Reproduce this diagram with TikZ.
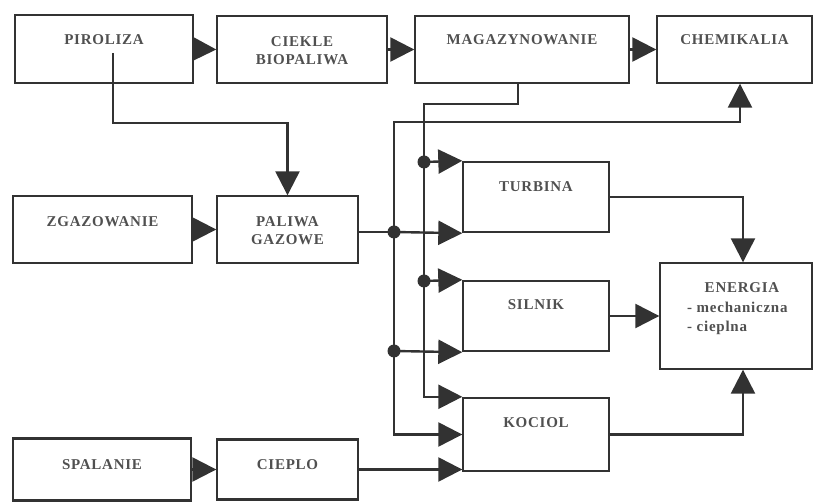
\documentclass[tikz,border=0pt]{standalone}
\usepackage{fontspec}
\setmainfont{Liberation Serif}[LetterSpace=5]
\usetikzlibrary{arrows.meta}
\definecolor{ln}{RGB}{50,50,50}
\definecolor{tx}{RGB}{80,80,80}
\tikzset{
  box/.style={draw=ln, line width=2.4pt, rectangle, inner sep=0pt},
  lbl/.style={text=tx, font=\bfseries\fontsize{15}{18.5}\selectfont, anchor=base, align=center, inner sep=0pt},
  conn/.style={draw=ln, line width=2.4pt},
  arr/.style={conn, -{Triangle[length=24pt,width=24pt]}, shorten >=-0.5pt},
  jdot/.style={circle, fill=ln, inner sep=0pt, minimum size=13pt},
}
\begin{document}
\begin{tikzpicture}[x=1pt,y=-1pt]
\useasboundingbox (0,0) rectangle (815,502);
% boxes
\node[box, minimum width=178pt, minimum height=68pt] (pir) at (104,49) {};
\node[box, minimum width=170pt, minimum height=67pt] (ciek) at (302,49.5) {};
\node[box, minimum width=214pt, minimum height=67pt] (mag) at (522,49.5) {};
\node[box, minimum width=155pt, minimum height=67pt] (chem) at (734.5,49.5) {};
\node[box, minimum width=179pt, minimum height=67pt] (zga) at (102.5,229.5) {};
\node[box, minimum width=141pt, minimum height=67pt] (pal) at (287.5,229.5) {};
\node[box, minimum width=146pt, minimum height=70pt] (tur) at (536,197) {};
\node[box, minimum width=146pt, minimum height=70pt] (sil) at (536,316) {};
\node[box, minimum width=146pt, minimum height=73pt] (koc) at (536,434.5) {};
\node[box, minimum width=152pt, minimum height=106pt] (ene) at (736,316) {};
\node[box, minimum width=178pt, minimum height=62pt] (spa) at (102,469.5) {};
\node[box, minimum width=141pt, minimum height=60pt] (cie) at (287.5,469.5) {};
% labels
\node[lbl] (tpir) at (104,45) {PIROLIZA};
\node[lbl] (tciek) at (302,65) {CIEKLE\\BIOPALIWA};
\node[lbl] (tmag) at (522,45) {MAGAZYNOWANIE};
\node[lbl] (tchem) at (734.5,45) {CHEMIKALIA};
\node[lbl] (tzga) at (102.5,227) {ZGAZOWANIE};
\node[lbl] (tpal) at (287.5,245) {PALIWA\\GAZOWE};
\node[lbl] (ttur) at (536,192) {TURBINA};
\node[lbl] (tsil) at (536,310) {SILNIK};
\node[lbl] (tkoc) at (536,428) {KOCIOL};
\node[lbl] (tene) at (742,293) {ENERGIA};
\node[lbl, anchor=base west] (tmech) at (687,313) {- mechaniczna};
\node[lbl, anchor=base west] (tciep) at (687,332) {- cieplna};
\node[lbl] (tspa) at (102,470) {SPALANIE};
\node[lbl] (tcie) at (287.5,470) {CIEPLO};
% junctions and bends
\coordinate (pirout) at (113,53);
\coordinate (mago) at (518,83);
\node[jdot] (jA) at (394,232) {};
\node[jdot] (jB) at (394,351) {};
\node[jdot] (jC) at (424,162) {};
\node[jdot] (jD) at (424,281) {};
% connectors in top row
\draw[arr] (pir.east) -- (ciek.west);
\draw[arr] (ciek.east) -- (mag.west);
\draw[arr] (mag.east) -- (chem.west);
\draw[arr] (pirout) -- (113,123) -| (pal.north);
\draw[arr] (zga.east) -- (pal.west);
\draw[arr] (spa.east) -- (cie.west);
% gas fuel distribution
\draw[conn] (pal.east |- jA) -- (jA.center);
\draw[arr] (jA.center) -- (tur.south west);
\draw[arr] (jA.center) -- (394,122) -| ([xshift=5.5pt]chem.south);
\draw[conn] (jA.center) -- (jB.center);
\draw[arr] (jB.center) -- (sil.south west);
\draw[arr] (jB.center) |- (koc.west);
% storage distribution
\draw[conn] (mago) -- (518,104) -| (jC.center);
\draw[arr] (jC.center) -- (tur.north west);
\draw[conn] (jC.center) -- (jD.center);
\draw[arr] (jD.center) -- (sil.north west);
\draw[arr] (jD.center) |- (koc.north west);
\draw[arr] (cie.east) -- (cie.east -| koc.west);
% outputs to energy
\draw[arr] (tur.east) -| ([xshift=7pt]ene.north);
\draw[arr] (sil.east) -- (ene.west);
\draw[arr] (koc.east) -| ([xshift=7pt]ene.south);
\end{tikzpicture}
\end{document}
